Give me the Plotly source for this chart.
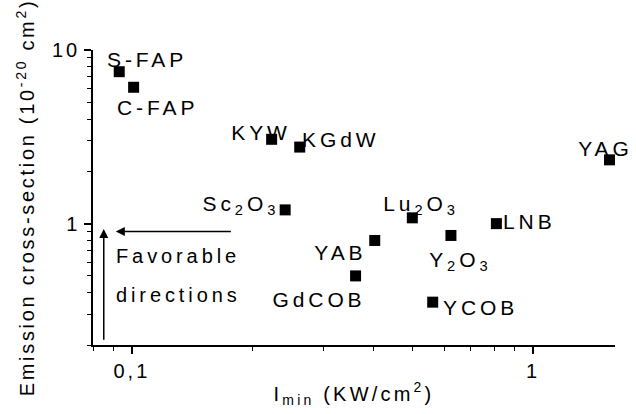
import numpy as np
import plotly.graph_objects as go

# ---- data ----
materials = ["S-FAP", "C-FAP", "KYW", "KGdW", "YAG", "Sc2O3", "Lu2O3",
             "LNB", "YAB", "Y2O3", "GdCOB", "YCOB"]
i_min = [0.093, 0.101, 0.223, 0.262, 1.55, 0.241, 0.50,
         0.81, 0.403, 0.624, 0.361, 0.562]
sigma = [7.5, 6.1, 3.06, 2.76, 2.33, 1.20, 1.08,
         1.00, 0.80, 0.855, 0.50, 0.353]

labels = ["S-FAP", "C-FAP", "KYW", "KGdW", "YAG", "Sc<sub>2</sub>O<sub>3</sub>",
          "Lu<sub>2</sub>O<sub>3</sub>", "LNB", "YAB", "Y<sub>2</sub>O<sub>3</sub>",
          "GdCOB", "YCOB"]
# label anchor positions (x, y in data units) and anchor side
label_x = [0.0859, 0.0909, 0.252, 0.262, 1.515, 0.235, 0.525,
           0.832, 0.387, 0.661, 0.387, 0.589]
label_y = [8.78, 4.64, 3.35, 3.06, 2.72, 1.28, 1.28,
           1.026, 0.686, 0.610, 0.367, 0.327]
label_anchor = ["left", "left", "right", "left", "center", "right", "center",
                "left", "right", "center", "right", "left"]

x_ticks = [0.1, 1]
x_ticktext = ["0,1", "1"]
y_ticks = [1, 10]
y_ticktext = ["1", "10"]
x_minor = [0.08, 0.09, 0.2, 0.3, 0.4, 0.5, 0.6, 0.7, 0.8, 0.9]
y_minor = [0.2, 0.3, 0.4, 0.5, 0.6, 0.7, 0.8, 0.9, 2, 3, 4, 5, 6, 7, 8, 9]

FONT = "Liberation Sans, Arial, sans-serif"

fig = go.Figure()
fig.add_trace(go.Scatter(
    x=i_min, y=sigma, mode="markers",
    marker=dict(symbol="square", size=11, color="black"),
    text=materials, hoverinfo="text", showlegend=False,
))

annotations = []
for t, lx, ly, anc in zip(labels, label_x, label_y, label_anchor):
    annotations.append(dict(
        x=np.log10(lx), y=np.log10(ly), xref="x", yref="y", text=t,
        showarrow=False, xanchor=anc, align=anc, yanchor="middle",
        font=dict(family=FONT, size=21, color="black"),
    ))

# "Favorable directions" text
annotations.append(dict(x=np.log10(0.0904), y=np.log10(0.651), xref="x", yref="y",
                        text="Favorable", showarrow=False, xanchor="left", align="left",
                        yanchor="middle", font=dict(family=FONT, size=20, color="black")))
annotations.append(dict(x=np.log10(0.0904), y=np.log10(0.387), xref="x", yref="y",
                        text="directions", showarrow=False, xanchor="left", align="left",
                        yanchor="middle", font=dict(family=FONT, size=20, color="black")))

# arrows
annotations.append(dict(x=np.log10(0.0912), y=np.log10(0.901), ax=np.log10(0.178), ay=np.log10(0.901),
                        xref="x", yref="y", axref="x", ayref="y", text="", showarrow=True,
                        arrowhead=2, arrowsize=1.2, arrowwidth=1.5, arrowcolor="black"))
annotations.append(dict(x=np.log10(0.0851), y=np.log10(0.93), ax=np.log10(0.0851), ay=np.log10(0.21),
                        xref="x", yref="y", axref="x", ayref="y", text="", showarrow=True,
                        arrowhead=2, arrowsize=1.2, arrowwidth=1.5, arrowcolor="black"))

fig.update_layout(
    width=636, height=414,
    margin=dict(l=93, r=21, t=50, b=61),
    paper_bgcolor="white", plot_bgcolor="white",
    font=dict(family=FONT, size=20, color="black"),
    annotations=annotations,
    xaxis=dict(
        type="log", range=[np.log10(0.08), np.log10(1.6)],
        tickmode="array", tickvals=x_ticks, ticktext=x_ticktext,
        ticks="outside", ticklen=7, tickwidth=1.5, tickcolor="black",
        showline=True, linecolor="black", linewidth=1.5, showgrid=False, zeroline=False,
        tickfont=dict(family=FONT, size=20),
        minor=dict(tickmode="array", tickvals=x_minor, ticks="outside", ticklen=4,
                   tickwidth=1.2, tickcolor="black", showgrid=False),
        title=dict(text="I<sub>min</sub> (KW/cm<sup>2</sup>)", font=dict(family=FONT, size=20), standoff=6),
    ),
    yaxis=dict(
        type="log", range=[np.log10(0.2), 1],
        tickmode="array", tickvals=y_ticks, ticktext=y_ticktext,
        ticks="outside", ticklen=7, tickwidth=1.5, tickcolor="black",
        showline=True, linecolor="black", linewidth=1.5, showgrid=False, zeroline=False,
        tickfont=dict(family=FONT, size=20),
        minor=dict(tickmode="array", tickvals=y_minor, ticks="outside", ticklen=4,
                   tickwidth=1.2, tickcolor="black", showgrid=False),
        title=dict(text="Emission cross-section (10<sup>-20</sup> cm<sup>2</sup>)",
                   font=dict(family=FONT, size=20), standoff=18),
    ),
)

post = """
var s = document.createElement('style');
s.textContent = '.annotation-text{letter-spacing:3.9px}' +
  ' .xtitle{letter-spacing:3.2px} .ytitle{letter-spacing:2.7px}' +
  ' .xtick text, .ytick text{letter-spacing:3px}';
document.head.appendChild(s);
"""

fig.write_html("out.html", post_script=post)
